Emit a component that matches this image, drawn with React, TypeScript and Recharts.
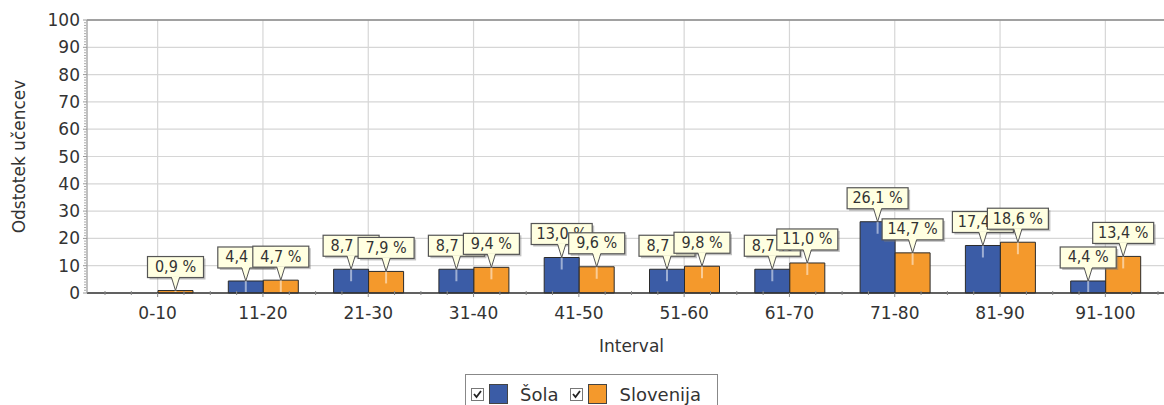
import React from "react";
import {
  BarChart,
  Bar,
  XAxis,
  YAxis,
  CartesianGrid,
  Legend,
  LabelList,
  ReferenceLine,
} from "recharts";

const intervals = ["0-10", "11-20", "21-30", "31-40", "41-50", "51-60", "61-70", "71-80", "81-90", "91-100"];
const sola = [0, 4.4, 8.7, 8.7, 13.0, 8.7, 8.7, 26.1, 17.4, 4.4];
const slovenija = [0.9, 4.7, 7.9, 9.4, 9.6, 9.8, 11.0, 14.7, 18.6, 13.4];
const yTicks = [0, 10, 20, 30, 40, 50, 60, 70, 80, 90, 100];
const seriesNames = ["Šola", "Slovenija"];

const data = intervals.map((interval, i) => ({
  interval,
  sola: sola[i],
  slovenija: slovenija[i],
}));

const BLUE = "#3b5ca6";
const ORANGE = "#f4992c";
const FONT = "'DejaVu Sans', Verdana, sans-serif";
const LABEL_FONT = "'Liberation Sans Narrow', 'DejaVu Sans Condensed', sans-serif";
const BAND = 105.3;

const fmt = (v: number) => v.toFixed(1).replace(".", ",") + " %";

function Callout(props: any) {
  const vb = props.viewBox ?? props;
  const x = vb.x ?? props.x;
  const y = vb.y ?? props.y;
  const width = vb.width ?? props.width;
  const height = vb.height ?? props.height;
  const value = props.value;
  if (!value) return null;
  const cx = x + width / 2;
  const top = y;
  const text = fmt(Number(value));
  const boxW = text.length > 5 ? 61 : 56;
  const boxH = 21;
  const boxBottom = top - 13;
  const boxTop = boxBottom - boxH;
  const left = cx - boxW / 2;
  return (
    <g>
      <line x1={cx} y1={top} x2={cx} y2={top + Math.min(12, Math.abs(height) - 1)} stroke="#ffffff" strokeOpacity={0.5} strokeWidth={2} />
      <rect x={left + 2} y={boxTop + 2} width={boxW} height={boxH} fill="#777" fillOpacity={0.45} />
      <rect x={left} y={boxTop} width={boxW} height={boxH} fill="#ffffe1" stroke="#555" strokeWidth={1.2} />
      <polygon points={`${cx - 4},${boxBottom - 1} ${cx},${top} ${cx + 4},${boxBottom - 1}`} fill="#ffffe1" />
      <polyline points={`${cx - 4},${boxBottom} ${cx},${top} ${cx + 4},${boxBottom}`} fill="none" stroke="#555" strokeWidth={1} />
      <text x={cx} y={boxTop + boxH / 2 + 5} textAnchor="middle" fontFamily={LABEL_FONT} fontSize={16} fill="#333">
        {text}
      </text>
    </g>
  );
}

function XTick(props: any) {
  const { x, y, payload, index } = props;
  const axisY = y - 8;
  const minor = [-BAND / 4, BAND / 4, BAND / 2];
  if (index === 0) minor.push(-BAND / 2);
  return (
    <g>
      {minor.map((d) => (
        <line key={d} x1={x + d} y1={axisY} x2={x + d} y2={axisY + 4} stroke="#888" />
      ))}
      <text x={x} y={y + 20} textAnchor="middle" fontFamily={FONT} fontSize={17} fill="#333">
        {payload.value}
      </text>
    </g>
  );
}

function YTick(props: any) {
  const { x, y, payload } = props;
  const axisX = x + 7;
  const step = 273 / 100;
  const minor = payload.value > 0 ? Array.from({ length: 9 }, (_, k) => (k + 1) * step) : [];
  return (
    <g>
      {minor.map((d) => (
        <line key={d} x1={axisX - 3} y1={y + d} x2={axisX - 1} y2={y + d} stroke="#aaa" />
      ))}
      <text x={x} y={y + 6} textAnchor="end" fontFamily={FONT} fontSize={17} fill="#333">
        {payload.value}
      </text>
    </g>
  );
}

function CheckBox() {
  return (
    <svg width={13} height={13} style={{ display: "block" }}>
      <rect x={0.5} y={0.5} width={12} height={12} fill="#fff" stroke="#777" />
      <polyline points="3,6 5.5,9 10,3" fill="none" stroke="#222" strokeWidth={1.8} />
    </svg>
  );
}

function LegendBox(props: any) {
  const all = props.payload ?? [];
  const items = seriesNames
    .map((n) => all.find((p: any) => p.value === n))
    .filter(Boolean);
  return (
    <div
      style={{
        border: "1px solid #888",
        background: "#fff",
        display: "flex",
        alignItems: "center",
        height: 40,
        width: 253,
        boxSizing: "border-box",
        padding: "0 0 0 5px",
        fontFamily: FONT,
        fontSize: 18,
        color: "#333",
        whiteSpace: "nowrap",
      }}
    >
      {items.map((p: any, i: number) => (
        <div key={p.value} style={{ display: "flex", alignItems: "center", marginLeft: i === 0 ? 0 : 12 }}>
          <CheckBox />
          <span
            style={{
              display: "inline-block",
              width: 19,
              height: 20,
              background: p.color,
              border: "1px solid #444",
              boxSizing: "border-box",
              marginLeft: 5,
              marginRight: 12,
            }}
          />
          <span>{p.value}</span>
        </div>
      ))}
    </div>
  );
}

export default function App() {
  return (
    <div style={{ position: "absolute", left: 0, top: 0, width: 1164, height: 405, overflow: "hidden", background: "#fff" }}>
      <BarChart
        width={1180}
        height={405}
        data={data}
        margin={{ top: 20, right: 4, left: 0, bottom: 52 }}
        barGap={0}
        barSize={35}
      >
        <CartesianGrid stroke="#d6d6d6" strokeWidth={1.2} />
        <ReferenceLine y={100} stroke="#888" strokeWidth={1.5} />
        <XAxis
          dataKey="interval"
          height={60}
          padding={{ left: 18, right: 18 }}
          axisLine={{ stroke: "#333", strokeWidth: 1.5 }}
          tickLine={{ stroke: "#888" }}
          tickSize={4}
          tick={<XTick />}
          interval={0}
          label={{ value: "Interval", position: "insideBottom", offset: 1, fill: "#333", fontSize: 17, fontFamily: FONT }}
        />
        <XAxis xAxisId="overlay" dataKey="interval" hide padding={{ left: 18, right: 18 }} />
        <YAxis
          width={87}
          domain={[0, 100]}
          ticks={yTicks}
          interval={0}
          axisLine={{ stroke: "#999" }}
          tickLine={{ stroke: "#999" }}
          tickSize={4}
          tickMargin={3}
          tick={<YTick />}
          label={{
            content: (p: any) => {
              const vb = p.viewBox ?? { y: 20, height: 273 };
              const cx = 19;
              const cy = vb.y + vb.height / 2;
              return (
                <text x={cx} y={cy} transform={`rotate(-90 ${cx} ${cy})`} textAnchor="middle" dominantBaseline="central" fontFamily={FONT} fontSize={17} fill="#333">
                  Odstotek učencev
                </text>
              );
            },
          }}
        />
        <Legend
          layout="horizontal"
          verticalAlign="middle"
          align="center"
          wrapperStyle={{ top: 374, left: 465, width: "auto", height: "auto" }}
          content={<LegendBox />}
        />
        <Bar dataKey="sola" name={seriesNames[0]} fill={BLUE} stroke="#2b2b2b" strokeWidth={1} isAnimationActive={false} />
        <Bar dataKey="slovenija" name={seriesNames[1]} fill={ORANGE} stroke="#2b2b2b" strokeWidth={1} isAnimationActive={false} />
        <Bar xAxisId="overlay" dataKey="sola" name="solaLabels" fill="none" stroke="none" legendType="none" isAnimationActive={false}>
          <LabelList dataKey="sola" content={<Callout />} />
        </Bar>
        <Bar xAxisId="overlay" dataKey="slovenija" name="slovenijaLabels" fill="none" stroke="none" legendType="none" isAnimationActive={false}>
          <LabelList dataKey="slovenija" content={<Callout />} />
        </Bar>
      </BarChart>
    </div>
  );
}
